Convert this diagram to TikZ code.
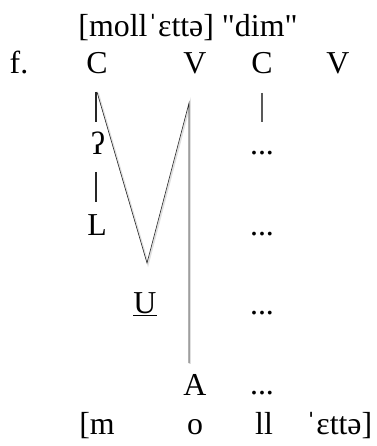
\documentclass[tikz,border=0pt]{standalone}
\usepackage{fontspec}
\setmainfont{Liberation Serif}[Ligatures=TeXOff]
\begin{document}
\begin{tikzpicture}[x=1bp,y=-1bp,
  lbl/.style={font=\fontsize{32}{34}\selectfont, inner sep=0pt, anchor=base},
  thinline/.style={line width=0.6pt, black!85},
  stemline/.style={line width=1.4pt, black!85},
  shadowline/.style={line width=1.8pt, black!12}]
\useasboundingbox (0,0) rectangle (376,446);
% title
\node[lbl] (title) at (188,37) {[mollˈɛttə] "dim"};
% top row
\node[lbl] (f) at (19,74) {f.};
\node[lbl] (C1) at (97,74) {C};
\node[lbl] (V1) at (195,74) {V};
\node[lbl] (C2) at (262,74) {C};
\node[lbl] (V2) at (338,74) {V};
% left column
\node[lbl] (glot) at (98,155) {ʔ};
\node[lbl] (L) at (97,235) {L};
\node[lbl] (U) at (145,313) {\underline{U}};
\node[lbl] (A) at (195,395) {A};
% dots
\node[lbl] (d1) at (262,155) {...};
\node[lbl] (d2) at (262,235) {...};
\node[lbl] (d3) at (262,314) {...};
\node[lbl] (d4) at (262,394) {...};
% bottom row
\node[lbl] (b1) at (97,434) {[m};
\node[lbl] (b2) at (195,434) {o};
\node[lbl] (b3) at (264,434) {ll};
\node[lbl] (b4) at (339,434) {ˈɛttə]};
% connector points
\coordinate (c1a) at (96,92);
\coordinate (c1b) at (96,122);
\coordinate (ga) at (96,172);
\coordinate (gb) at (96,202);
\coordinate (c2a) at (262,93);
\coordinate (c2b) at (262,122);
\coordinate (p1) at (97,92);
\coordinate (p2) at (147,263);
\coordinate (p3) at (189,103);
\coordinate (p4) at (189,363);
% shadows
\draw[shadowline] ([xshift=1pt,yshift=-1pt]p1) -- ([xshift=1pt,yshift=-1pt]p2) -- ([xshift=1pt,yshift=-1pt]p3) -- ([xshift=1pt,yshift=-1pt]p4);
% lines
\draw[stemline] (c1a) -- (c1b);
\draw[stemline] (ga) -- (gb);
\draw[stemline, black!65] (c2a) -- (c2b);
\draw[thinline] (p1) -- (p2) -- (p3) -- (p4);
\end{tikzpicture}
\end{document}
